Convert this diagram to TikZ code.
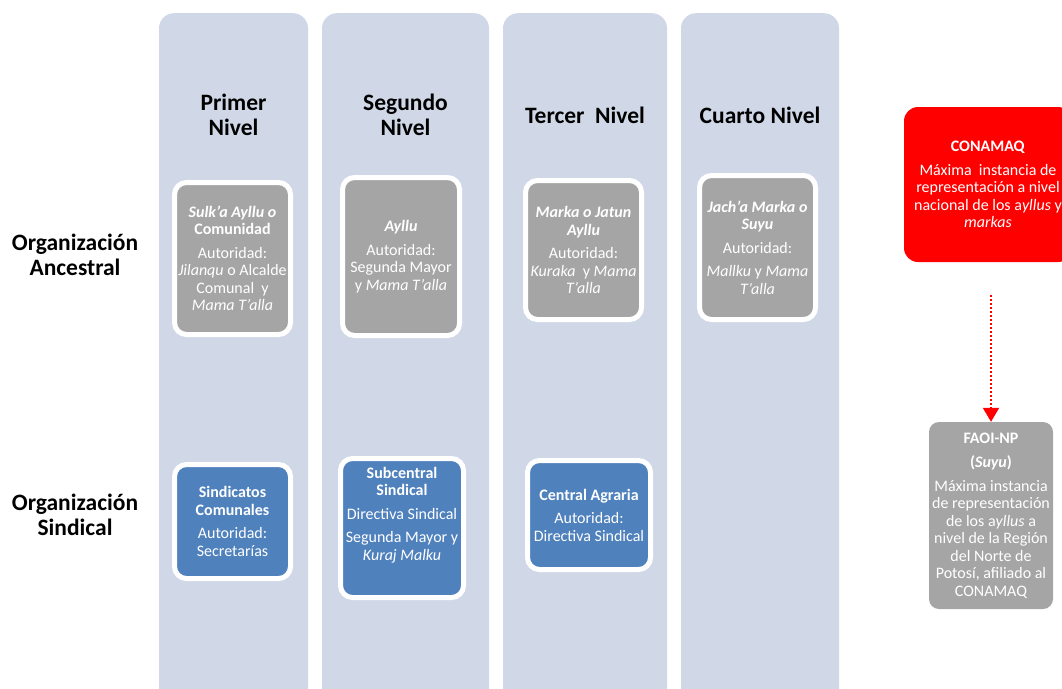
\documentclass[tikz,border=0pt]{standalone}
\usepackage{fontspec}
\setmainfont{Carlito}
\usetikzlibrary{arrows.meta}
\newcommand{\apo}{\symbol{39}}
\definecolor{colbg}{HTML}{D0D8E8}
\definecolor{boxgray}{HTML}{A5A5A5}
\definecolor{boxblue}{HTML}{4F81BD}
\definecolor{conred}{HTML}{FF0000}
\tikzset{
  colbox/.style={fill=colbg, rounded corners=15pt, inner sep=0pt, anchor=north, minimum height=690},
  hdr/.style={font=\bfseries\fontsize{23.5}{25}\selectfont, align=center, text=black},
  boxtxt/.style={text=white, align=center, inner sep=1pt, font=\fontsize{16}{17.5}\selectfont},
  ancbox/.style={boxtxt, fill=boxgray, draw=white, line width=5pt, rounded corners=12pt},
  sinbox/.style={boxtxt, fill=boxblue, draw=white, line width=5pt, rounded corners=12pt},
  redbox/.style={boxtxt, fill=conred, rounded corners=14pt},
  faoibox/.style={boxtxt, fill=boxgray, rounded corners=10pt},
  link/.style={conred, line width=2pt, dash pattern=on 2pt off 2pt, -{Triangle[width=16pt,length=14pt]}}
}
\begin{document}
\begin{tikzpicture}[x=1pt,y=-1pt]
\useasboundingbox (0,0) rectangle (1062,688);
\clip (0,0) rectangle (1062,688);
% columns
\node[colbox, minimum width=149] (c1) at (233.5,13) {};
\node[colbox, minimum width=167] (c2) at (405.5,13) {};
\node[colbox, minimum width=164] (c3) at (585,13) {};
\node[colbox, minimum width=158] (c4) at (760,13) {};
% headers
\node[hdr] (h1) at (233.5,115) {Primer\\Nivel};
\node[hdr] (h2) at (405.5,115) {Segundo\\Nivel};
\node[hdr] (h3) at (585,115) {Tercer~ Nivel};
\node[hdr] (h4) at (760,115) {Cuarto Nivel};
% row labels
\node[hdr] (r1) at (75,255) {Organización\\Ancestral};
\node[hdr] (r2) at (75,515) {Organización\\Sindical};
% ancestral boxes
\node[ancbox, minimum width=116, minimum height=152] (sulka) at (232.5,258.5)
 {\textbf{\textit{Sulk\apo a Ayllu o}}\\ \textbf{Comunidad}\\[6pt] Autoridad:\\ \textit{Jilanqu} o Alcalde\\ Comunal~ y\\ \textit{Mama T\apo alla}};
\node[ancbox, minimum width=117, minimum height=158] (ayllu) at (401,256.5)
 {\textbf{\textit{Ayllu}}\\[6pt] Autoridad:\\ Segunda Mayor\\ y \textit{Mama T\apo alla}};
\node[ancbox, minimum width=116, minimum height=139] (marka) at (583.5,250)
 {\textbf{\textit{Marka o Jatun}}\\ \textbf{\textit{Ayllu}}\\[6pt] Autoridad:\\ \textit{Kuraka}~ y \textit{Mama}\\ \textit{T\apo alla}};
\node[ancbox, minimum width=116, minimum height=144] (jacha) at (757.5,247.5)
 {\textbf{\textit{Jach\apo a Marka o}}\\ \textbf{\textit{Suyu}}\\[6pt] Autoridad:\\[6pt] \textit{Mallku} y \textit{Mama}\\ \textit{T\apo alla}};
% sindical boxes
\node[sinbox, minimum width=116, minimum height=114] (sind) at (232.5,521.5)
 {\textbf{Sindicatos}\\ \textbf{Comunales}\\[6pt] Autoridad:\\ Secretarías};
\node[sinbox, minimum width=123, minimum height=139] (subc) at (402,528) {};
\node[boxtxt] (subct) at (402,515)
 {\textbf{Subcentral}\\ \textbf{Sindical}\\[6pt] Directiva Sindical\\[6pt] Segunda Mayor y\\ \textit{Kuraj Malku}};
\node[sinbox, minimum width=123, minimum height=109] (central) at (589,515)
 {\textbf{Central Agraria}\\[6pt] Autoridad:\\ Directiva Sindical};
% right side
\node[redbox, minimum width=168, minimum height=155] (conamaq) at (988,184.5)
 {\textbf{CONAMAQ}\\[6pt] Máxima~ instancia de\\ representación a nivel\\ nacional de los a\textit{yllus} y\\ \textit{markas}};
\node[faoibox, minimum width=124, minimum height=187] (faoi) at (991,515.5)
 {\textbf{FAOI-NP}\\[7pt] \textbf{(\textit{Suyu})}\\[6pt] Máxima instancia\\ de representación\\ de los a\textit{yllus} a\\ nivel de la Región\\ del Norte de\\ Potosí, afiliado al\\ CONAMAQ};
\coordinate (astart) at (991,295);
\draw[link] (astart) -- (faoi.north);
\end{tikzpicture}
\end{document}
